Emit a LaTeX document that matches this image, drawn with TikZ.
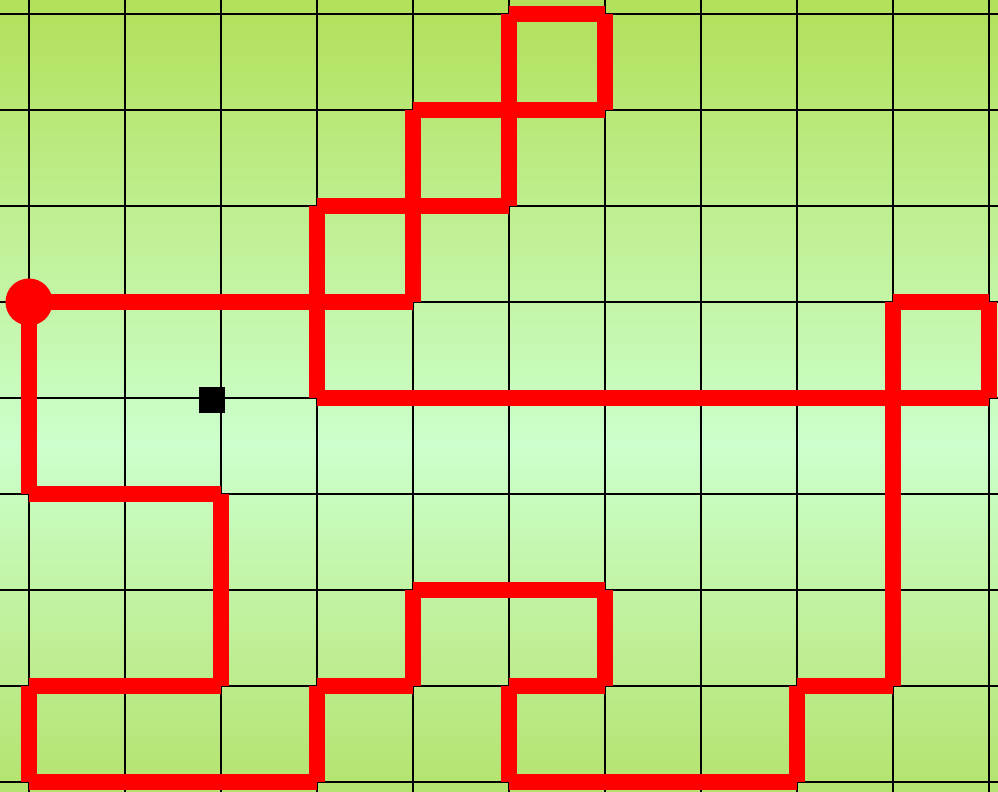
\documentclass[tikz,border=0pt]{standalone}
\usepackage{tikz}
\usetikzlibrary{positioning,shapes.geometric}
\usepackage{xcolor}
\definecolor{bgtop}{HTML}{B2E05A}
\definecolor{bgmid}{HTML}{CCFFCC}
\definecolor{bgbot}{HTML}{B4E36E}
\definecolor{trackred}{HTML}{FF0000}

\begin{document}
\begin{tikzpicture}[
    gridline/.style={draw=black, line width=0.6pt},
    track/.style={draw=trackred, line width=0.1667cm, line cap=butt},
    startdot/.style={circle, fill=trackred, inner sep=0pt, minimum size=0.49cm},
    goal/.style={rectangle, fill=black, inner sep=0pt, minimum size=0.27cm},
]
\useasboundingbox (-0.302,-0.104) rectangle (10.094,8.146);
\shade[top color=bgtop, bottom color=bgmid] (-0.302,3.5) rectangle (10.094,8.146);
\shade[top color=bgmid, bottom color=bgbot] (-0.302,-0.104) rectangle (10.094,3.5);
\foreach \i in {0,...,10} \draw[gridline] (\i,-0.104) -- (\i,8.146);
\foreach \j in {0,...,8} \draw[gridline] (-0.302,\j) -- (10.094,\j);
\foreach \i in {0,...,10} \foreach \j in {0,...,8} \coordinate (g\i-\j) at (\i,\j);

\foreach \a/\b in {g0-5/g4-5, g0-5/g0-3, g0-3/g2-3, g2-3/g2-1, g0-1/g2-1, g0-1/g0-0,
    g0-0/g3-0, g3-0/g3-1, g3-1/g4-1, g4-1/g4-2, g4-2/g6-2, g6-2/g6-1, g5-1/g6-1,
    g5-1/g5-0, g5-0/g8-0, g8-0/g8-1, g8-1/g9-1, g9-1/g9-5, g9-5/g10-5, g10-5/g10-4,
    g3-4/g10-4, g3-4/g3-6, g3-6/g5-6, g4-5/g4-7, g4-7/g6-7, g5-6/g5-8, g5-8/g6-8, g6-8/g6-7}
    \draw[track] (\a) -- (\b);

\node[startdot] (start) at (g0-5) {};
\node[goal] (target) at (1.906,3.98) {};
\end{tikzpicture}
\end{document}
